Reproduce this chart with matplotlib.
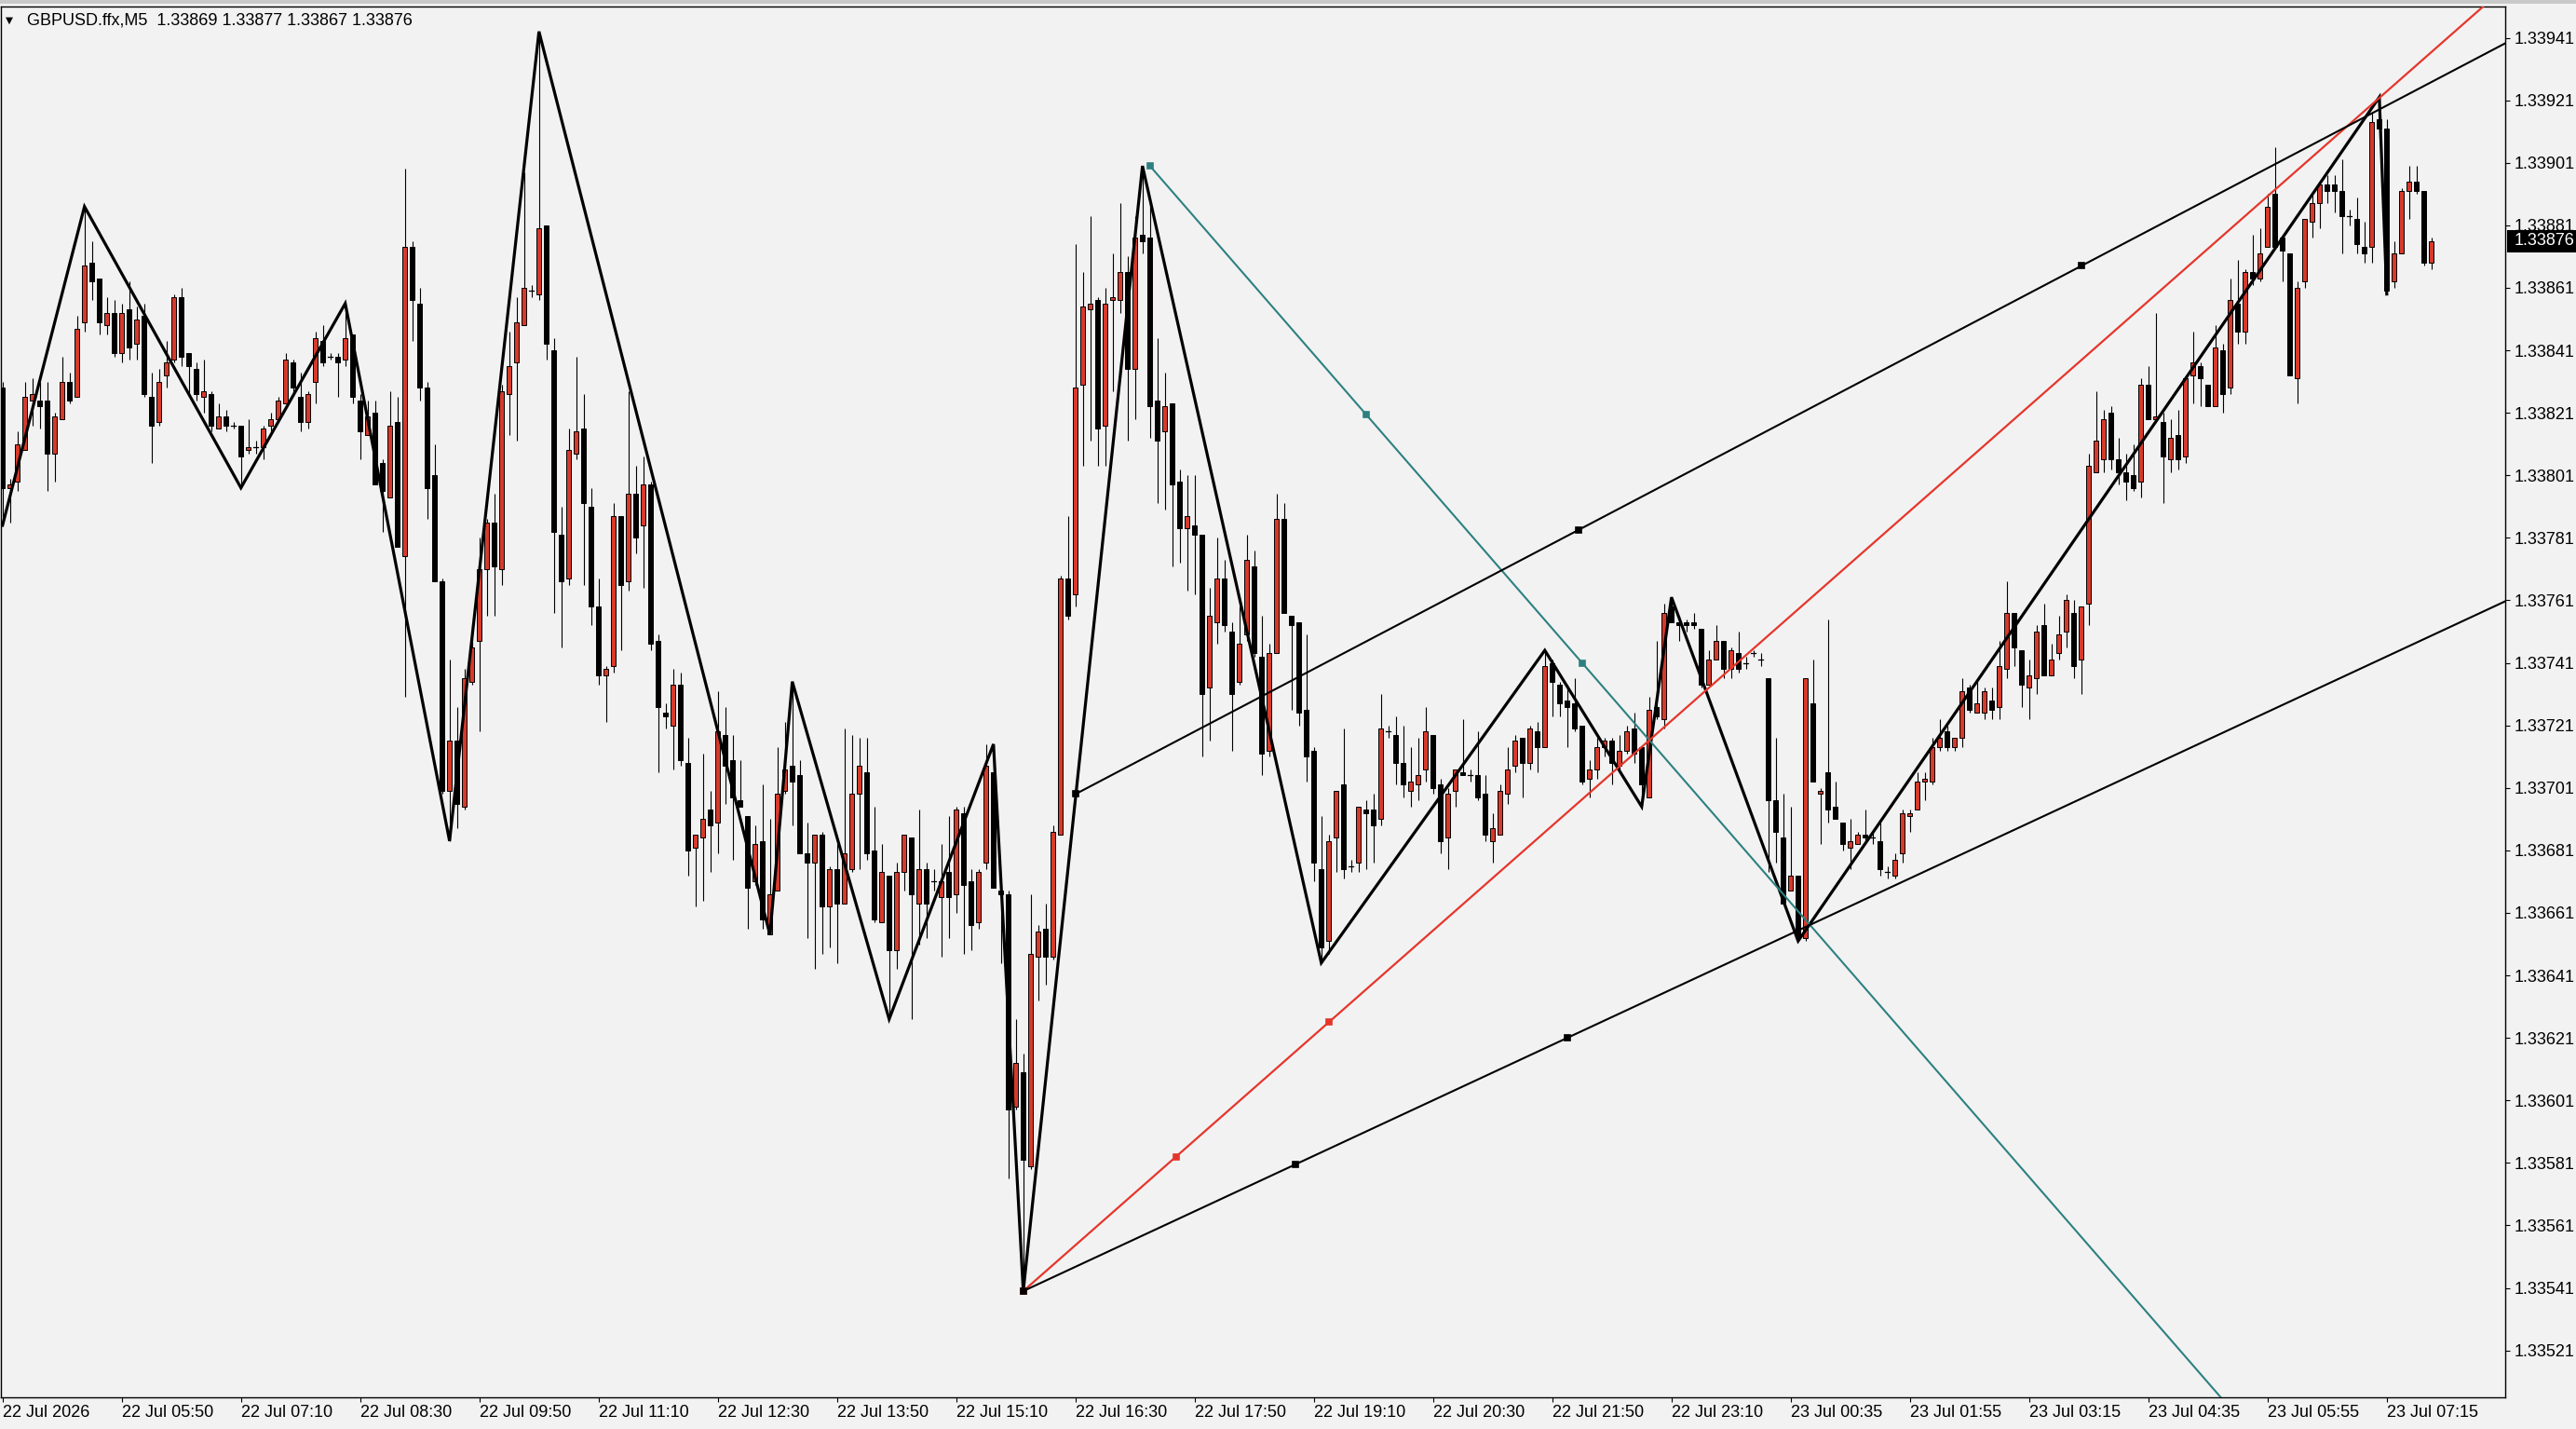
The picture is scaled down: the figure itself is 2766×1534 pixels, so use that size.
import numpy as np
import matplotlib
matplotlib.use("Agg")
import matplotlib.pyplot as plt
from matplotlib.patches import Rectangle
from matplotlib.collections import LineCollection
from matplotlib.transforms import blended_transform_factory

plt.rcParams['font.family'] = ['Liberation Sans', 'DejaVu Sans']

# ---------------- data (prices in points: 1 + pts/1e5) ----------------
open_pts = [
33829,33797,33799,33809,33825,33825,33825,33808,33819,33831,33826,33850,33869,33864,33849,33853,33840,33854,33843,33852,
33826,33818,33833,33838,33858,33840,33835,33826,33827,33816,33820,33817,33817,33809,33810,33810,33817,33819,33824,33837,
33826,33818,33831,33844,33839,33839,33838,33846,33825,33814,33821,33805,33794,33818,33775,33874,33856,33829,33801,33767,
33700,33716,33695,33735,33748,33771,33786,33771,33827,33837,33849,33860,33859,33881,33841,33782,33768,33808,33816,33791,
33759,33737,33740,33788,33767,33795,33785,33798,33748,33725,33721,33734,33709,33682,33685,33694,33690,33718,33710,33697,
33692,33671,33684,33654,33668,33700,33708,33705,33680,33677,33686,33663,33675,33664,33675,33699,33706,33681,33658,33673,
33649,33674,33685,33664,33675,33671,33666,33674,33667,33693,33671,33658,33677,33706,33668,33667,33599,33610,33580,33647,
33656,33647,33686,33768,33763,33830,33854,33857,33817,33857,33857,33866,33835,33878,33877,33825,33815,33824,33799,33784,
33785,33782,33733,33754,33768,33751,33735,33750,33772,33743,33713,33744,33787,33756,33754,33726,33713,33675,33652,33685,
33702,33676,33677,33694,33694,33691,33719,33718,33709,33700,33702,33707,33718,33702,33685,33700,33706,33705,33705,33699,
33684,33686,33699,33708,33717,33709,33719,33714,33741,33734,33729,33728,33721,33704,33707,33714,33716,33708,33713,33720,
33714,33698,33727,33723,33759,33754,33754,33754,33752,33734,33742,33748,33739,33744,33741,33744,33742,33736,33697,33685,
33668,33673,33653,33728,33699,33706,33695,33690,33682,33683,33686,33685,33684,33674,33673,33680,33692,33694,33703,33703,
33714,33719,33714,33717,33733,33725,33725,33729,33727,33739,33757,33745,33733,33736,33753,33737,33744,33751,33757,33742,
33760,33802,33806,33821,33806,33802,33801,33799,33830,33819,33818,33806,33814,33807,33833,33836,33830,33823,33841,33829,
33856,33847,33866,33864,33874,33891,33877,33872,33832,33863,33882,33888,33894,33894,33892,33884,33883,33874,33874,33915,
33912,33863,33872,33892,33895,33892,33869]
high_pts = [
33831,33800,33815,33831,33832,33831,33831,33821,33839,33834,33852,33887,33876,33864,33858,33857,33856,33863,33855,33856,
33834,33835,33844,33859,33861,33840,33837,33838,33828,33824,33822,33818,33817,33819,33812,33817,33821,33826,33840,33838,
33834,33828,33847,33849,33840,33840,33856,33846,33827,33825,33825,33806,33828,33826,33899,33876,33861,33831,33811,33768,
33742,33727,33739,33753,33781,33787,33795,33830,33847,33858,33898,33862,33943,33881,33845,33791,33816,33839,33827,33797,
33768,33740,33792,33788,33828,33804,33807,33799,33750,33728,33739,33738,33717,33686,33712,33700,33732,33727,33718,33710,
33692,33689,33702,33691,33714,33722,33735,33710,33690,33686,33687,33676,33683,33720,33718,33717,33717,33695,33683,33673,
33677,33686,33685,33694,33677,33675,33683,33692,33695,33695,33675,33675,33715,33715,33670,33668,33627,33616,33667,33657,
33664,33689,33769,33788,33875,33866,33884,33858,33861,33872,33888,33871,33884,33900,33890,33845,33834,33824,33803,33801,
33801,33782,33765,33781,33774,33754,33759,33782,33777,33756,33747,33795,33792,33756,33754,33750,33714,33692,33686,33700,
33720,33678,33695,33697,33699,33731,33721,33724,33721,33714,33717,33727,33718,33704,33701,33707,33723,33707,33719,33705,
33693,33702,33714,33718,33717,33721,33722,33745,33742,33735,33734,33736,33721,33710,33717,33717,33717,33718,33721,33725,
33714,33730,33748,33760,33762,33756,33755,33757,33752,33745,33753,33748,33746,33751,33743,33745,33744,33736,33717,33699,
33695,33673,33736,33742,33701,33755,33703,33690,33691,33687,33694,33687,33690,33676,33680,33694,33694,33706,33706,33717,
33723,33721,33717,33736,33734,33735,33733,33733,33748,33767,33757,33745,33742,33753,33760,33747,33756,33763,33761,33759,
33808,33828,33822,33823,33813,33808,33811,33832,33836,33853,33821,33819,33822,33832,33847,33837,33830,33849,33843,33864,
33870,33867,33878,33880,33891,33906,33877,33872,33863,33883,33891,33894,33897,33897,33902,33886,33890,33882,33917,33922,
33915,33876,33893,33900,33900,33892,33877]
low_pts = [
33785,33786,33796,33809,33817,33816,33796,33799,33819,33824,33826,33847,33857,33846,33846,33839,33837,33838,33838,33826,
33805,33817,33829,33837,33836,33827,33825,33821,33815,33816,33815,33816,33797,33808,33808,33806,33815,33819,33824,33827,
33815,33816,33824,33836,33838,33826,33836,33824,33806,33814,33798,33783,33794,33778,33730,33844,33825,33787,33767,33699,
33684,33688,33694,33734,33719,33756,33756,33766,33814,33812,33849,33858,33857,33838,33757,33746,33766,33806,33766,33753,
33734,33722,33738,33745,33764,33776,33765,33745,33706,33720,33707,33708,33673,33663,33665,33674,33680,33696,33678,33695,
33656,33670,33656,33654,33668,33699,33689,33680,33653,33643,33648,33650,33645,33664,33674,33675,33678,33658,33658,33627,
33643,33668,33627,33651,33653,33668,33647,33653,33661,33648,33649,33656,33675,33669,33645,33576,33598,33540,33579,33633,
33638,33646,33686,33755,33759,33804,33812,33804,33804,33828,33853,33812,33819,33872,33813,33792,33790,33772,33773,33764,
33763,33711,33716,33747,33751,33713,33734,33748,33743,33705,33711,33744,33757,33726,33721,33703,33671,33645,33648,33674,
33672,33674,33674,33675,33677,33689,33717,33702,33698,33695,33697,33703,33699,33680,33675,33695,33705,33703,33697,33684,
33677,33686,33696,33706,33698,33707,33706,33714,33724,33724,33714,33719,33702,33698,33704,33711,33702,33706,33712,33709,
33695,33698,33723,33720,33754,33748,33751,33752,33733,33734,33742,33736,33736,33738,33739,33743,33740,33674,33677,33664,
33668,33652,33652,33703,33683,33690,33691,33681,33675,33683,33684,33683,33673,33672,33672,33677,33687,33694,33697,33702,
33713,33713,33713,33714,33725,33725,33723,33723,33723,33736,33740,33727,33723,33731,33737,33737,33742,33746,33736,33731,
33753,33802,33802,33803,33798,33793,33796,33794,33819,33819,33792,33802,33803,33805,33824,33823,33823,33823,33821,33827,
33843,33843,33862,33863,33874,33874,33863,33833,33824,33861,33877,33880,33888,33885,33872,33881,33872,33869,33869,33909,
33859,33861,33872,33883,33891,33868,33867]
close_pts = [
33797,33798,33811,33826,33827,33823,33808,33820,33831,33825,33848,33868,33863,33850,33853,33840,33853,33842,33851,33827,
33817,33831,33837,33858,33839,33836,33827,33828,33817,33820,33817,33817,33807,33810,33810,33816,33819,33825,33838,33829,
33818,33827,33845,33837,33839,33837,33845,33826,33815,33820,33798,33796,33817,33778,33874,33857,33829,33797,33767,33700,
33716,33696,33736,33746,33771,33786,33772,33828,33836,33850,33861,33860,33880,33843,33783,33767,33809,33815,33792,33759,
33737,33739,33788,33766,33795,33781,33798,33747,33727,33724,33734,33710,33681,33686,33691,33689,33719,33708,33698,33695,
33669,33683,33659,33667,33699,33707,33703,33680,33677,33686,33663,33675,33664,33680,33699,33708,33680,33659,33674,33649,
33674,33686,33667,33675,33664,33671,33671,33666,33694,33670,33657,33674,33708,33669,33667,33598,33613,33582,33648,33655,
33647,33687,33768,33756,33829,33855,33856,33816,33856,33858,33866,33835,33877,33876,33823,33812,33823,33798,33784,33788,
33782,33731,33756,33768,33753,33731,33747,33774,33744,33712,33744,33787,33757,33753,33725,33711,33677,33650,33684,33700,
33675,33676,33695,33693,33689,33720,33719,33709,33702,33703,33705,33719,33701,33684,33699,33707,33705,33705,33698,33686,
33688,33700,33707,33716,33709,33720,33714,33740,33735,33728,33727,33720,33703,33707,33714,33716,33709,33713,33719,33712,
33702,33726,33724,33757,33754,33753,33753,33753,33734,33742,33748,33739,33745,33739,33741,33744,33742,33697,33687,33664,
33673,33653,33736,33703,33700,33694,33691,33683,33684,33686,33685,33685,33675,33674,33678,33693,33693,33703,33704,33714,
33717,33714,33717,33732,33726,33728,33732,33726,33740,33757,33746,33734,33737,33751,33737,33742,33750,33761,33740,33759,
33804,33812,33819,33806,33802,33799,33797,33830,33819,33820,33807,33813,33806,33832,33837,33832,33823,33842,33827,33857,
33847,33866,33864,33872,33887,33874,33873,33833,33861,33883,33888,33894,33892,33892,33884,33884,33875,33872,33914,33912,
33860,33872,33892,33895,33892,33869,33876]

# zigzag indicator vertices (bar index, price points)
zigzag_bars = [0, 11, 32, 46, 60, 72, 103, 106, 119, 133, 137, 153, 177, 207, 220, 224, 241, 319, 320]
zigzag_pts = [33785, 33887, 33797, 33856, 33684, 33943, 33654, 33735, 33627, 33715, 33540, 33900,
              33645, 33745, 33695, 33762, 33652, 33922, 33859]

# trend-line rays: (bar1, price1, bar2, price2)
ray_teal = (154, 1.33900, 212, 1.33741)
ray_red = (137, 1.33540, 178, 1.33626)
ray_upper = (144, 1.33699, 279, 1.33868)
ray_lower = (137, 1.33540, 210, 1.33621)

price_ticks = [1.33941, 1.33921, 1.33901, 1.33881, 1.33861, 1.33841, 1.33821, 1.33801, 1.33781,
               1.33761, 1.33741, 1.33721, 1.33701, 1.33681, 1.33661, 1.33641, 1.33621, 1.33601,
               1.33581, 1.33561, 1.33541, 1.33521]
time_tick_bars = list(range(0, 321, 16))
time_labels = ["22 Jul 2026", "22 Jul 05:50", "22 Jul 07:10", "22 Jul 08:30", "22 Jul 09:50",
               "22 Jul 11:10", "22 Jul 12:30", "22 Jul 13:50", "22 Jul 15:10", "22 Jul 16:30",
               "22 Jul 17:50", "22 Jul 19:10", "22 Jul 20:30", "22 Jul 21:50", "22 Jul 23:10",
               "23 Jul 00:35", "23 Jul 01:55", "23 Jul 03:15", "23 Jul 04:35", "23 Jul 05:55",
               "23 Jul 07:15"]
symbol_title = "GBPUSD.ffx,M5  1.33869 1.33877 1.33867 1.33876"
last_price = 1.33876

# ---------------- figure ----------------
W, H, DPI = 2766, 1534, 100
BG = '#F2F2F2'
BULL = '#D63A2B'
fig = plt.figure(figsize=(W / DPI, H / DPI), dpi=DPI, facecolor=BG)
ax = fig.add_axes([1 / W, (H - 1500) / H, (2690 - 1) / W, (1500 - 7) / H])
ax.set_facecolor(BG)

o = 1 + np.array(open_pts) / 1e5
h = 1 + np.array(high_pts) / 1e5
l = 1 + np.array(low_pts) / 1e5
c = 1 + np.array(close_pts) / 1e5
h = np.maximum(h, np.maximum(o, c))
l = np.minimum(l, np.minimum(o, c))
n = len(o)
xs = np.arange(n)

# wicks
segs = [[(x, lo), (x, hi)] for x, lo, hi in zip(xs, l, h)]
ax.add_collection(LineCollection(segs, colors='black', linewidths=0.8, zorder=2))
# bodies
bw = 0.62
for x, oo, cc in zip(xs, o, c):
    bottom = min(oo, cc)
    height = abs(cc - oo)
    fc = BULL if cc > oo else 'black'
    if height < 1e-9:
        ax.plot([x - bw / 2, x + bw / 2], [oo, oo], color='black', lw=0.9, zorder=3)
    else:
        ax.add_patch(Rectangle((x - bw / 2, bottom), bw, height, facecolor=fc,
                               edgecolor='black', linewidth=0.7, zorder=3))

# zigzag
zz_y = 1 + np.array(zigzag_pts) / 1e5
ax.plot(zigzag_bars, zz_y, color='black', lw=2.3, zorder=4, solid_joinstyle='miter')

XMAX = 335.9
def draw_ray(r, color, lw):
    x1, y1, x2, y2 = r
    slope = (y2 - y1) / (x2 - x1)
    ax.plot([x1, XMAX + 5], [y1, y1 + slope * (XMAX + 5 - x1)], color=color, lw=lw, zorder=5)
    mx, my = (x1 + x2) / 2, (y1 + y2) / 2
    ax.plot([x1, mx, x2], [y1, my, y2], linestyle='none', marker='s', ms=3.8,
            mfc=color, mec=color, mew=1.2, zorder=6)

draw_ray(ray_teal, '#2E8080', 1.5)
draw_ray(ray_red, '#E5362B', 1.6)
draw_ray(ray_upper, 'black', 1.5)
draw_ray(ray_lower, 'black', 1.5)

ax.set_xlim((1 - 2.7) / 8, XMAX)
ax.set_ylim(1.335060, 1.339510)

# axes styling
for s in ax.spines.values():
    s.set_color('black')
    s.set_linewidth(1.0)
ax.yaxis.tick_right()
ax.set_yticks(price_ticks)
ax.set_yticklabels([f"{p:.5f}" for p in price_ticks])
ax.tick_params(axis='y', direction='out', length=3.6, width=0.8, pad=3.5, labelsize=13,
               colors='black')
ax.set_xticks(time_tick_bars)
ax.set_xticklabels(time_labels)
ax.tick_params(axis='x', direction='out', length=3.6, width=0.8, pad=2, labelsize=13,
               colors='black')
for t in ax.get_xticklabels():
    t.set_ha('left')

# current price box
tr = blended_transform_factory(ax.transAxes, ax.transData)
box_h = 24 / 335500
ax.add_patch(Rectangle((1.0006, last_price - box_h / 2), 0.0281, box_h, transform=tr,
                       facecolor='black', edgecolor='none', clip_on=False, zorder=10))
ax.text(1.0037, last_price, f"{last_price:.5f}", transform=tr, color='white', fontsize=13,
        va='center', ha='left', clip_on=False, zorder=11)

# title
fig.text(6 / W, 1 - 22 / H, '\u25BC', family='DejaVu Sans', fontsize=7.5, va='center', ha='left')
fig.text(29 / W, 1 - 22 / H, symbol_title, fontsize=13, va='center', ha='left')

# top chrome strip
fig.add_artist(Rectangle((0, 1 - 4 / H), 1, 4 / H, transform=fig.transFigure,
                         facecolor='#C9C9C9', edgecolor='none'))

fig.savefig('out.png', dpi=DPI, facecolor=BG)
